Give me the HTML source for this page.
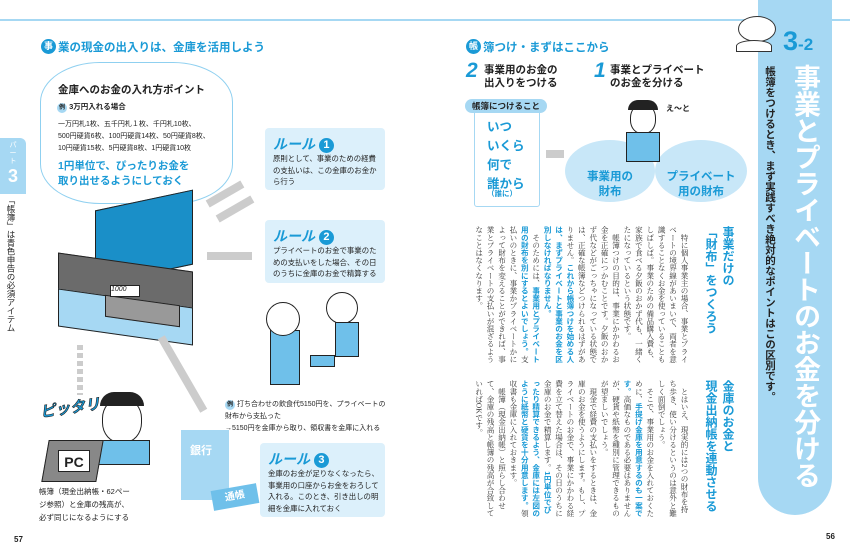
<!DOCTYPE html>
<html><head><meta charset="utf-8"><style>
*{margin:0;padding:0;box-sizing:border-box}
body{width:850px;height:557px;background:#fff;position:relative;overflow:hidden;font-family:"Liberation Sans","Noto Sans CJK JP",sans-serif;color:#222}
.a{position:absolute}
.blue{color:#1a9ad6}
.rule{position:absolute;background:#dcf0fb;border-radius:4px;padding:7px 6px 4px 8px;font-size:7.4px;line-height:11.5px}
.rule b.t{display:block;color:#1a9ad6;font-size:14px;line-height:18px;font-style:italic}
.num{display:inline-block;width:15px;height:15px;border-radius:50%;background:#1a9ad6;color:#fff;font-size:11px;line-height:15px;text-align:center;font-style:normal;vertical-align:1px}
.v{writing-mode:vertical-rl;position:absolute;font-family:"Liberation Serif","Noto Serif CJK SC",serif;font-size:7.6px;line-height:11.4px;color:#333}
.v b{color:#1a9ad6;font-family:"Liberation Sans","Noto Sans CJK JP",sans-serif}
.vh{writing-mode:vertical-rl;position:absolute;color:#1a9ad6;font-weight:bold;font-size:12px;line-height:17px;white-space:nowrap}
.arrow{position:absolute;background:#ccc}
</style></head><body>
<div class="a" style="left:0;top:19px;width:850px;height:2px;background:#a6d8f3"></div>
<!-- right band -->
<div class="a" style="left:758px;top:0;width:74px;height:515px;background:#a6d8f3;border-radius:0 0 37px 37px"></div>
<div class="a" style="left:783px;top:26px;font-size:27px;font-weight:bold;color:#1a9ad6">3<span style="font-size:17px">-2</span></div>
<div class="a" style="writing-mode:vertical-rl;white-space:nowrap;left:790px;top:64px;font-size:27px;line-height:30px;font-weight:bold;color:#fff;letter-spacing:-0.5px">事業とプライベートのお金を分ける</div>
<div class="a" style="writing-mode:vertical-rl;white-space:nowrap;left:763px;top:66px;font-size:10.5px;line-height:13px;font-weight:bold;color:#222">帳簿をつけるとき、まず実践すべき絶対的なポイントはこの区別です。</div>
<div class="a" style="left:738px;top:16px;width:38px;height:26px;border:1.5px solid #333;border-radius:50%;background:#fff"></div>
<div class="a" style="left:736px;top:40px;width:36px;height:12px;border:1.5px solid #333;border-radius:50% 50% 0 0;background:#fff"></div>
<!-- left tab -->
<div class="a" style="left:0;top:138px;width:26px;height:56px;background:#a6d8f3;border-radius:0 6px 0 0;color:#fff;text-align:center;font-size:7px;line-height:8px;padding-top:4px">パ<br>ー<br>ト<br><span style="font-size:18px;line-height:20px;font-weight:bold">3</span></div>
<div class="a" style="writing-mode:vertical-rl;white-space:nowrap;left:6px;top:196px;font-size:8.5px;line-height:10px">「帳簿」は青色申告の必須アイテム</div>
<!-- left heading -->
<div class="a" style="left:41px;top:39px;width:15px;height:15px;border-radius:50%;background:#1a9ad6;color:#fff;font-size:9px;line-height:15px;text-align:center;font-weight:bold">事</div>
<div class="a blue" style="left:58px;top:39px;font-size:11.5px;font-weight:bold">業の現金の出入りは、金庫を活用しよう</div>
<!-- bubble -->
<div class="a" style="left:40px;top:62px;width:193px;height:142px;border:1.5px solid #8fd0f0;border-radius:60px/40px;background:#fff"></div>
<div class="a" style="left:58px;top:82px;font-size:10.5px;font-weight:bold">金庫へのお金の入れ方ポイント</div>
<div class="a" style="left:57px;top:101px;font-size:7.5px;font-weight:bold"><span style="display:inline-block;width:10px;height:10px;border-radius:50%;background:#a6d8f3;text-align:center;line-height:10px;font-size:6px">例</span> 3万円入れる場合</div>
<div class="a" style="left:58px;top:119px;font-size:7px;line-height:12px">一万円札1枚、五千円札１枚、千円札10枚、<br>500円硬貨6枚、100円硬貨14枚、50円硬貨8枚、<br>10円硬貨15枚、5円硬貨8枚、1円硬貨10枚</div>
<div class="a blue" style="left:58px;top:159px;font-size:10.5px;line-height:15px;font-weight:bold">1円単位で、ぴったりお金を<br>取り出せるようにしておく</div>
<!-- cash box -->
<div class="a" style="left:95px;top:200px;width:98px;height:75px;background:#1a8fc8;border:1.5px solid #222;transform:skewY(-12deg)"></div>
<div class="a" style="left:58px;top:262px;width:135px;height:60px;background:#6b6b6b;border:1.5px solid #222;transform:skewY(8deg)"></div>
<div class="a" style="left:58px;top:298px;width:135px;height:38px;background:#a6d8f3;border:1.5px solid #222;transform:skewY(8deg)"></div>
<div class="a" style="left:105px;top:300px;width:75px;height:22px;background:#999;border:1px solid #222;transform:skewY(8deg)"></div>
<div class="a" style="left:110px;top:285px;width:30px;height:12px;background:#fff;border:1px solid #222;font-size:7px;font-style:italic">1000</div>
<!-- arrows -->
<div class="arrow" style="left:205px;top:190px;width:40px;height:8px;transform:rotate(-30deg)"></div>
<div class="arrow" style="left:215px;top:205px;width:40px;height:8px;transform:rotate(-30deg)"></div>
<div class="arrow" style="left:207px;top:252px;width:45px;height:8px"></div>
<div class="arrow" style="left:77px;top:345px;width:6px;height:50px;background:repeating-linear-gradient(#ccc 0 5px,#fff 5px 8px)"></div>
<div class="arrow" style="left:140px;top:370px;width:85px;height:8px;transform:rotate(60deg)"></div>
<!-- rules -->
<div class="rule" style="left:265px;top:128px;width:120px;height:62px"><b class="t">ルール <span class="num">1</span></b>原則として、事業のための経費の支払いは、この金庫のお金から行う</div>
<div class="rule" style="left:265px;top:220px;width:120px;height:63px"><b class="t">ルール <span class="num">2</span></b>プライベートのお金で事業のための支払いをした場合、その日のうちに金庫のお金で精算する</div>
<div class="rule" style="left:260px;top:443px;width:125px;height:74px"><b class="t">ルール <span class="num">3</span></b>金庫のお金が足りなくなったら、事業用の口座からお金をおろして入れる。このとき、引き出しの明細を金庫に入れておく</div>
<!-- people (simplified) -->
<div class="a" style="left:270px;top:330px;width:30px;height:55px;background:#6fc0ea;border:1.5px solid #222"></div>
<div class="a" style="left:266px;top:302px;width:34px;height:34px;border-radius:50%;background:#fff;border:1.5px solid #222"></div>
<div class="a" style="left:326px;top:292px;width:32px;height:32px;border-radius:50%;background:#fff;border:1.5px solid #222"></div>
<div class="a" style="left:335px;top:322px;width:24px;height:35px;background:#6fc0ea;border:1.5px solid #222"></div>
<div class="a" style="left:310px;top:355px;width:25px;height:12px;background:#6fc0ea;border:1px solid #222"></div>
<div class="a" style="left:225px;top:399px;font-size:7px;line-height:12px;width:165px"><span style="display:inline-block;width:10px;height:10px;border-radius:50%;background:#a6d8f3;text-align:center;line-height:10px;font-size:6px;font-weight:bold">例</span> 打ち合わせの飲食代5150円を、プライベートの財布から支払った<br>→5150円を金庫から取り、領収書を金庫に入れる</div>
<!-- PC person -->
<div class="a" style="left:102px;top:398px;width:40px;height:45px;border-radius:45%;background:#fff;border:1.5px solid #222"></div>
<div class="a" style="left:100px;top:392px;width:44px;height:14px;border-radius:20px 20px 0 0;background:#222"></div>
<div class="a blue" style="left:40px;top:397px;font-size:15px;font-weight:bold;font-style:italic;-webkit-text-stroke:0.6px #222;transform:rotate(-8deg)">ピッタリ</div>
<div class="a" style="left:95px;top:440px;width:55px;height:25px;background:#6fc0ea;border:1.5px solid #222"></div>
<div class="a" style="left:45px;top:440px;width:55px;height:42px;background:#888;border:1.5px solid #222;transform:skewX(-10deg)"></div>
<div class="a" style="left:58px;top:450px;width:32px;height:22px;background:#fff;border:1px solid #222;font-weight:bold;font-size:14px;text-align:center;line-height:22px">PC</div>
<div class="a" style="left:39px;top:485px;font-size:7.5px;line-height:13px">帳簿（現金出納帳・62ペー<br>ジ参照）と金庫の残高が、<br>必ず同じになるようにする</div>
<!-- bank -->
<div class="a" style="left:181px;top:430px;width:48px;height:70px;background:#a6d8f3"></div>
<div class="a" style="left:190px;top:442px;color:#fff;font-weight:bold;font-size:11px">銀行</div>
<div class="a" style="left:212px;top:487px;width:46px;height:20px;background:#6fc0ea;transform:rotate(-10deg);color:#fff;font-weight:bold;font-size:10px;text-align:center;line-height:20px">通帳</div>
<div class="a" style="left:14px;top:535px;font-size:8px;font-weight:bold">57</div>
<div class="a" style="left:826px;top:532px;font-size:8px;font-weight:bold">56</div>
<!-- right heading -->
<div class="a" style="left:466px;top:39px;width:15px;height:15px;border-radius:50%;background:#1a9ad6;color:#fff;font-size:9px;line-height:15px;text-align:center;font-weight:bold">帳</div>
<div class="a blue" style="left:483px;top:39px;font-size:11.5px;font-weight:bold">簿つけ・まずはここから</div>
<div class="a blue" style="left:466px;top:59px;font-size:21px;font-weight:bold;font-style:italic">2</div>
<div class="a" style="left:484px;top:64px;font-size:10.5px;font-weight:bold;line-height:13px">事業用のお金の<br>出入りをつける</div>
<div class="a blue" style="left:594px;top:59px;font-size:21px;font-weight:bold;font-style:italic">1</div>
<div class="a" style="left:610px;top:64px;font-size:10.5px;font-weight:bold;line-height:13px">事業とプライベート<br>のお金を分ける</div>
<div class="a" style="left:474px;top:110px;width:66px;height:97px;border:1.5px solid #a6d8f3;border-radius:3px"></div>
<div class="a" style="left:465px;top:99px;width:82px;height:14px;border-radius:7px;background:#a6d8f3;font-size:8.5px;font-weight:bold;text-align:center;line-height:14px">帳簿につけること</div>
<div class="a blue" style="left:487px;top:118px;font-size:12.5px;font-weight:bold;line-height:19px">いつ<br>いくら<br>何で<br>誰から</div>
<div class="a blue" style="left:487px;top:188px;font-size:7.5px;font-weight:bold">（誰に）</div>
<div class="arrow" style="left:546px;top:150px;width:18px;height:8px"></div>
<div class="a" style="left:565px;top:140px;width:90px;height:62px;border-radius:50%;background:#c8e7f8"></div>
<div class="a" style="left:655px;top:140px;width:92px;height:62px;border-radius:50%;background:#c8e7f8"></div>
<div class="a blue" style="left:578px;top:170px;font-size:11.5px;font-weight:bold;text-align:center;width:64px;line-height:15px">事業用の<br>財布</div>
<div class="a blue" style="left:660px;top:170px;font-size:11.5px;font-weight:bold;text-align:center;width:82px;line-height:15px">プライベート<br>用の財布</div>
<div class="a" style="left:630px;top:104px;width:26px;height:30px;border-radius:45%;border:1.5px solid #222;background:#fff"></div>
<div class="a" style="left:628px;top:100px;width:30px;height:10px;background:#222;border-radius:10px 10px 0 0"></div>
<div class="a" style="left:626px;top:132px;width:34px;height:30px;background:#6fc0ea;border:1.5px solid #222"></div>
<div class="a" style="left:666px;top:103px;font-size:8px;font-weight:bold">え〜と</div>
<!-- body text -->
<div class="vh" style="left:702px;top:226px;height:140px">事業だけの<br>「財布」をつくろう</div>
<div class="v" style="left:466px;top:226px;height:138px;width:224px">　特に個人事業主の場合、事業とプライベートの境界線があいまいで、両者を意識することなくお金を使っていることもしばしば。事業のための備品購入費も、家族で食べる夕飯のおかず代も、一緒くたになっているという状態です。<br>　帳簿つけの目的は、事業にかかわるお金を正確につかむことです。夕飯のおかず代などがごっちゃになっている状態では、正確な帳簿などつけられるはずがありません。<b>これから帳簿つけを始める人は、まずプライベートと事業のお金を区別しなければなりません。</b><br>　そのためには、<b>事業用とプライベート用の財布を別にするとよいでしょう。</b>支払いのときに、事業かプライベートかによって財布を変えることができれば、事業とプライベートの支払いが混ざるようなことはなくなります。</div>
<div class="vh" style="left:702px;top:380px;height:140px">金庫のお金と<br>現金出納帳を連動させる</div>
<div class="v" style="left:466px;top:380px;height:138px;width:224px">　とはいえ、現実的には2つの財布を持ち歩き、使い分けるというのは意外と難しく面倒でしょう。<br>　そこで、事業用のお金を入れておくために、<b>手提げ金庫を用意するのも一案です。</b>高価なものである必要はありませんが、硬貨や紙幣を種別に管理できるものが望ましいでしょう。<br>　現金で経費の支払いをするときは、金庫のお金を使うようにします。もし、プライベートのお金で、事業にかかわる経費を立て替えた場合は、その日のうちに金庫のお金で精算します。<b>1円単位でぴったり精算できるよう、金庫には左図のように紙幣と硬貨を十分用意します。</b>領収書も金庫に入れておきます。<br>　帳簿（現金出納帳）と照らし合わせて、金庫の残高と帳簿の残高が合致していればOKです。</div>
</body></html>
